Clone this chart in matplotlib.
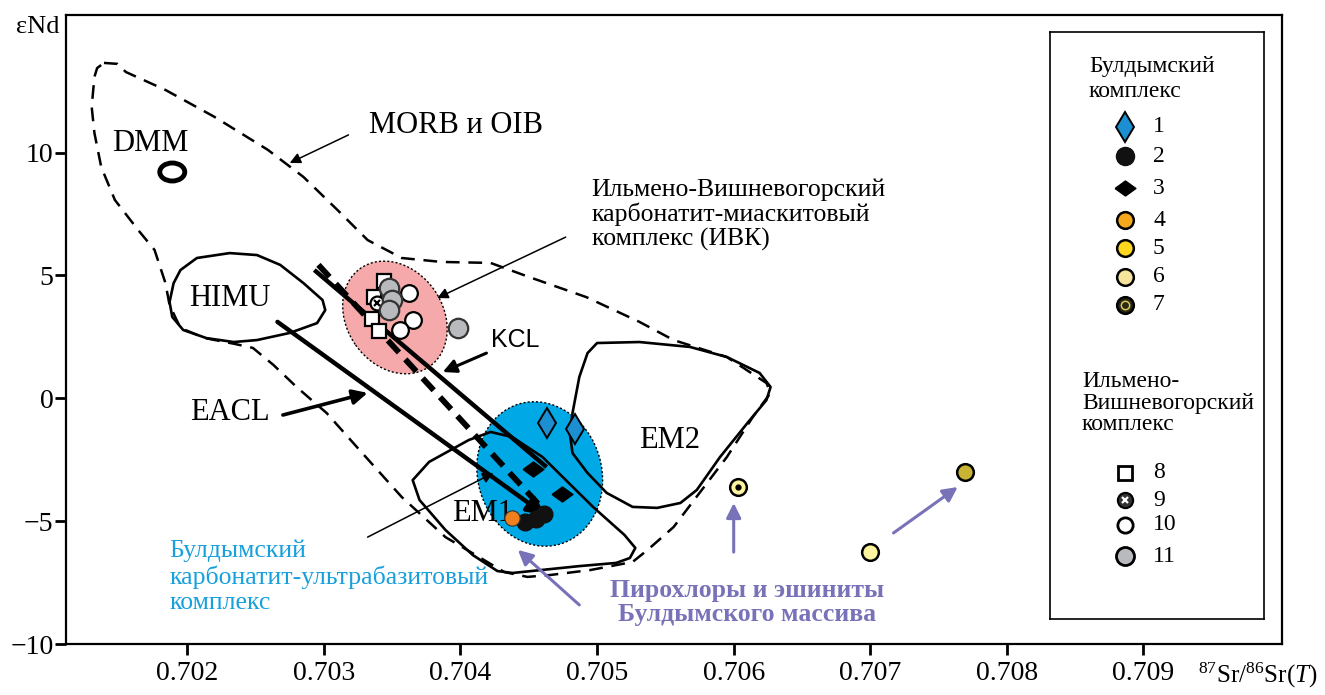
import matplotlib
matplotlib.use('Agg')
import matplotlib.pyplot as plt
from matplotlib.patches import Ellipse, Polygon
from matplotlib.transforms import ScaledTranslation

plt.rcParams['font.family'] = ['Liberation Serif', 'DejaVu Serif']
plt.rcParams['mathtext.fontset'] = 'custom'
plt.rcParams['mathtext.rm'] = 'Liberation Serif'
plt.rcParams['mathtext.it'] = 'Liberation Serif:italic'

# mantle reservoir fields, 87Sr/86Sr vs eNd
morb_x = [0.70139, 0.70149, 0.70155, 0.70184, 0.70220, 0.70259, 0.70285, 0.70310, 0.70332, 0.70357,
          0.70386, 0.70422, 0.70450, 0.70492, 0.70531, 0.70556, 0.70595, 0.70624, 0.70627, 0.70614,
          0.70595, 0.70575, 0.70556, 0.70537, 0.70526, 0.70495, 0.70466, 0.70449, 0.70432, 0.70389,
          0.70357, 0.70326, 0.70302, 0.70280, 0.70263, 0.70248, 0.70235, 0.70213, 0.70195, 0.70187,
          0.70184, 0.70176, 0.70164, 0.70147, 0.70137, 0.70132, 0.70130, 0.70132, 0.70134]
morb_y = [13.65, 13.61, 13.28, 12.55, 11.45, 10.11, 9.01, 7.66, 6.44, 5.71,
          5.55, 5.51, 4.94, 4.12, 3.11, 2.37, 1.68, 0.62, 0.22, -0.76,
          -2.39, -3.85, -5.24, -6.17, -6.66, -6.99, -7.19, -7.27, -7.07, -5.65,
          -4.02, -2.10, -0.60, 0.46, 1.36, 2.05, 2.21, 2.45, 2.86, 3.80,
          4.69, 6.04, 6.85, 8.07, 9.41, 10.80, 11.86, 13.08, 13.44]

himu_x = [0.70187, 0.70190, 0.70195, 0.70207, 0.70231, 0.70251, 0.70268, 0.70285, 0.70299, 0.70301,
          0.70295, 0.70275, 0.70251, 0.70234, 0.70214, 0.70197, 0.70189]
himu_y = [3.92, 4.69, 5.22, 5.71, 5.91, 5.83, 5.43, 4.69, 4.00, 3.59,
          3.06, 2.66, 2.37, 2.29, 2.45, 2.78, 3.31]

em2_x = [0.70500, 0.70531, 0.70568, 0.70595, 0.70619, 0.70627, 0.70624, 0.70610, 0.70590, 0.70573,
         0.70561, 0.70544, 0.70526, 0.70507, 0.70493, 0.70482, 0.70480, 0.70482, 0.70487, 0.70493]
em2_y = [2.25, 2.29, 2.09, 1.68, 1.03, 0.46, -0.07, -1.01, -2.39, -3.73,
         -4.26, -4.46, -4.42, -3.85, -3.04, -2.23, -1.41, -0.60, 0.87, 1.84]

em1_x = [0.70365, 0.70377, 0.70406, 0.70422, 0.70438, 0.70460, 0.70497, 0.70520, 0.70528, 0.70524,
         0.70514, 0.70487, 0.70438, 0.70427, 0.70409, 0.70389, 0.70370]
em1_y = [-3.33, -2.59, -1.70, -1.37, -1.58, -2.39, -4.42, -5.56, -6.09, -6.50,
         -6.70, -6.83, -7.11, -7.03, -6.38, -5.36, -4.14]

dmm = (0.70189, 9.21)
ivk_center = (0.70352, 3.29)
buld_center = (0.70458, -3.08)

# trend lines (start, end)
eacl_line = [(0.70266, 3.11), (0.70462, -4.75)]
kcl_line = [(0.70293, 5.22), (0.70463, -2.80)]
dash_line = [(0.70296, 5.43), (0.70465, -4.79)]

# Булдымский комплекс
s1_x, s1_y = [0.70463, 0.70484], [-1.00, -1.25]
s2_x, s2_y = [0.70447, 0.70455, 0.70461], [-5.03, -4.91, -4.71]
s3_x, s3_y = [0.70453, 0.70474], [-2.88, -3.90]
s4_x, s4_y = [0.70438], [-4.87]
s5_x, s5_y = [0.70769], [-3.00]
s6_x, s6_y = [0.70700], [-6.26]
s7_x, s7_y = [0.70603], [-3.61]
# Ильмено-Вишневогорский комплекс
s8_x, s8_y = [0.70344, 0.70337, 0.70335, 0.70340], [4.77, 4.12, 3.23, 2.74]
s9_x, s9_y = [0.70339], [3.88]
s10_x, s10_y = [0.70362, 0.70365, 0.70356], [4.29, 3.19, 2.78]
s11_x, s11_y = [0.70348, 0.70350, 0.70348, 0.70398], [4.49, 4.00, 3.59, 2.86]

xticks = [0.702, 0.703, 0.704, 0.705, 0.706, 0.707, 0.708, 0.709]
yticks = [-10, -5, 0, 5, 10]

BLUE = '#00a9e6'
PINK = '#f5a9aa'
PURPLE = '#7872b8'
TXTBLUE = '#18a0dc'

fig = plt.figure(figsize=(13.25, 6.95), dpi=100)
ax = fig.add_axes([66 / 1325, 51 / 695, 1216 / 1325, 629 / 695])
ax.set_xlim(0.701112, 0.710014)
ax.set_ylim(-10, 15.6)


def disp_ellipse(center, w, h, angle, **kw):
    tr = fig.dpi_scale_trans + ScaledTranslation(center[0], center[1], ax.transData)
    e = Ellipse((0, 0), w, h, angle=angle, transform=tr, **kw)
    ax.add_patch(e)


disp_ellipse(ivk_center, 1.20, 0.96, -55, facecolor=PINK, edgecolor='k', lw=1.0, ls=(0, (1.5, 1.5)), zorder=1)
disp_ellipse(buld_center, 1.46, 1.24, -74, facecolor=BLUE, edgecolor='k', lw=1.0, ls=(0, (1.5, 1.5)), zorder=1)
disp_ellipse(dmm, 0.25, 0.18, 0, facecolor='none', edgecolor='k', lw=3.5, zorder=3)

ax.add_patch(Polygon(list(zip(morb_x, morb_y)), closed=True, fill=False, ec='k', lw=1.8,
                     ls=(0, (5.5, 3.5)), joinstyle='round', zorder=2))
for px, py in [(himu_x, himu_y), (em2_x, em2_y), (em1_x, em1_y)]:
    ax.add_patch(Polygon(list(zip(px, py)), closed=True, fill=False, ec='k', lw=1.9,
                         joinstyle='round', zorder=2))

# trend lines
ax.plot(*zip(*kcl_line), color='k', lw=3.2, solid_capstyle='butt', zorder=3)
ax.plot(*zip(*dash_line), color='k', lw=4.2, dashes=(2.8, 1.6), zorder=3)
ax.annotate('', xy=eacl_line[1], xytext=eacl_line[0],
            arrowprops=dict(arrowstyle='-|>', color='k', lw=3.2, mutation_scale=26,
                            shrinkA=0, shrinkB=0), zorder=3)


def pointer(start, end, lw=1.1, color='k', ms=16):
    ax.annotate('', xy=end, xytext=start,
                arrowprops=dict(arrowstyle='-|>', color=color, lw=lw, mutation_scale=ms,
                                shrinkA=0, shrinkB=0), zorder=4)


pointer((0.70318, 10.72), (0.70275, 9.58))
pointer((0.70477, 6.56), (0.70383, 4.08))
pointer((0.70419, 1.84), (0.70387, 1.07), lw=2.2, ms=20)
pointer((0.70270, -0.68), (0.70332, 0.22), lw=2.6, ms=22)
pointer((0.70332, -5.65), (0.70424, -3.04))
pointer((0.70487, -8.41), (0.70442, -6.17), lw=2.2, color=PURPLE, ms=22)
pointer((0.70600, -6.26), (0.70600, -4.26), lw=2.2, color=PURPLE, ms=22)
pointer((0.70717, -5.48), (0.70764, -3.61), lw=2.2, color=PURPLE, ms=22)

# markers
flat_diamond = [(-1, 0), (0, 0.72), (1, 0), (0, -0.72), (-1, 0)]
mk = dict(ls='none', zorder=5)
ax.plot(s1_x, s1_y, marker='d', ms=15, mfc='#1b8fd2', mec='k', mew=1.4, **mk)
ax.plot(s3_x, s3_y, marker=flat_diamond, ms=15, mfc='k', mec='k', **mk)
ax.plot(s2_x, s2_y, marker='o', ms=12, mfc='#111111', mec='#111111', **mk)
ax.plot(s4_x, s4_y, marker='o', ms=11, mfc='#f07f1e', mec='#333333', mew=0.8, **mk)
ax.plot(s5_x, s5_y, marker='o', ms=12, mfc='#c8b432', mec='k', mew=1.8, **mk)
ax.plot(s6_x, s6_y, marker='o', ms=12, mfc='#fff59e', mec='k', mew=1.8, **mk)
ax.plot(s7_x, s7_y, marker='o', ms=12, mfc='#fff59e', mec='k', mew=1.8, **mk)
ax.plot(s7_x, s7_y, marker='o', ms=3.5, mfc='k', mec='k', **mk)
ax.plot(s8_x, s8_y, marker='s', ms=10, mfc='white', mec='k', mew=1.6, **mk)
ax.plot(s9_x, s9_y, marker='o', ms=10, mfc='white', mec='k', mew=1.6, **mk)
ax.plot(s9_x, s9_y, marker='x', ms=5, mec='k', mew=1.6, **mk)
ax.plot(s10_x, s10_y, marker='o', ms=12, mfc='white', mec='k', mew=1.6, **mk)
ax.plot(s11_x, s11_y, marker='o', ms=14, mfc='#b9babe', mec='#333333', mew=1.6, **mk)

# labels
big = 22
ax.text(0.70173, 10.39, 'DMM', fontsize=big, ha='center', va='center')
ax.text(0.70397, 11.12, 'MORB и OIB', fontsize=big, ha='center', va='center')
ax.text(0.70231, 4.08, 'HIMU', fontsize=big, ha='center', va='center')
ax.text(0.70231, -0.56, 'EACL', fontsize=big, ha='center', va='center')
ax.text(0.70553, -1.70, 'EM2', fontsize=big, ha='center', va='center')
ax.text(0.70416, -4.67, 'EM1', fontsize=big, ha='center', va='center', zorder=4)
ax.text(0.70440, 2.37, 'KCL', fontsize=18, family=['Liberation Sans', 'DejaVu Sans'],
        ha='center', va='center')
ax.text(0.70496, 7.46, 'Ильмено-Вишневогорский\nкарбонатит-миаскитовый\nкомплекс (ИВК)',
        fontsize=18.5, ha='left', va='center', linespacing=1.1)
ax.text(0.70187, -7.27, 'Булдымский\nкарбонатит-ультрабазитовый\nкомплекс',
        fontsize=18.5, color=TXTBLUE, ha='left', va='center', linespacing=1.17)
ax.text(0.70610, -8.31, 'Пирохлоры и эшиниты\nБулдымского массива', fontsize=18.5,
        fontweight='bold', color=PURPLE, ha='center', va='center', linespacing=1.1)

for sp in ax.spines.values():
    sp.set_linewidth(1.6)
ax.set_xticks(xticks)
ax.set_xticklabels([f'{v:.3f}' for v in xticks])
ax.set_yticks(yticks)
ax.tick_params(direction='out', length=8, width=2, labelsize=20, top=False, right=False)
ax.tick_params(axis='x', pad=4)
ax.tick_params(axis='y', pad=1)

fig.text(0.0287, 0.961, 'εNd', fontsize=19, ha='center', va='center')
fig.text(0.994, 0.028, r'$^{87}$Sr/$^{86}$Sr($T$)', fontsize=18, ha='right', va='center')

# legend panel
leg_nums = ['1', '2', '3', '4', '5', '6', '7', '8', '9', '10', '11']
leg_rows = [95, 124, 156, 188, 216, 245, 273, 441, 468, 493, 524]
lax = fig.add_axes([1050 / 1325, 76 / 695, 214 / 1325, 587 / 695])
lax.set_xlim(0, 214)
lax.set_ylim(587, 0)
lax.set_xticks([])
lax.set_yticks([])
for sp in lax.spines.values():
    sp.set_linewidth(1.2)
mx = 75
styles = [
    dict(marker='d', ms=15, mfc='#1b8fd2', mec='k', mew=1.4),
    dict(marker='o', ms=13, mfc='#111111', mec='#111111'),
    dict(marker=flat_diamond, ms=15, mfc='k', mec='k'),
    dict(marker='o', ms=12, mfc='#f5a81c', mec='k', mew=1.8),
    dict(marker='o', ms=12, mfc='#ffd71f', mec='k', mew=1.8),
    dict(marker='o', ms=12, mfc='#f6e49c', mec='k', mew=1.8),
    dict(marker='o', ms=12, mfc='#2b2a14', mec='k', mew=1.8),
    dict(marker='s', ms=10, mfc='white', mec='k', mew=2),
    dict(marker='o', ms=11, mfc='#333333', mec='k', mew=1.5),
    dict(marker='o', ms=11, mfc='white', mec='k', mew=2),
    dict(marker='o', ms=13, mfc='#b9babe', mec='k', mew=2),
]
for num, row, st in zip(leg_nums, leg_rows, styles):
    lax.plot([mx], [row], ls='none', **st)
    lax.text(103, row, num, fontsize=17, ha='left', va='center')
lax.plot([mx], [leg_rows[6]], ls='none', marker='o', ms=6, mfc='#2b2a14', mec='#e8d060', mew=1)
lax.plot([mx], [leg_rows[8]], ls='none', marker='x', ms=5, mec='white', mew=1.6)
lax.text(39, 47, 'Булдымский\nкомплекс', fontsize=17, ha='left', va='center', linespacing=1.2)
lax.text(32, 371, 'Ильмено-\nВишневогорский\nкомплекс', fontsize=17, ha='left', va='center',
         linespacing=1.05)

fig.savefig('out.png', dpi=100)
